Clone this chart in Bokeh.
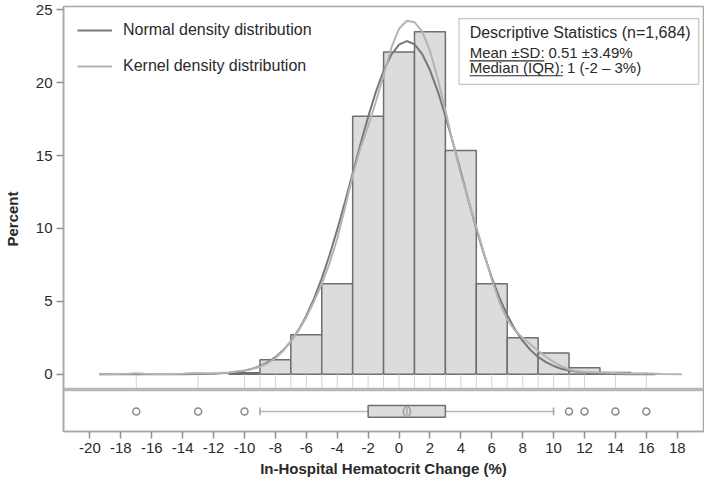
from bokeh.plotting import figure
from bokeh.models import (Range1d, Legend, LegendItem, BoxAnnotation, Label,
                          FixedTicker)
from bokeh.embed import file_html
from bokeh.resources import INLINE

# ---------------- data ----------------
bin_left = [-11, -9, -7, -5, -3, -1, 1, 3, 5, 7, 9, 11, 13]
bin_right = [-9, -7, -5, -3, -1, 1, 3, 5, 7, 9, 11, 13, 15]
bin_pct = [0.1, 1.0, 2.7, 6.2, 17.7, 22.1, 23.5, 15.35, 6.2, 2.5, 1.45, 0.45, 0.12]

normal_x = [-19.4, -16, -14, -13, -12, -11, -10, -9.5, -9, -8.5, -8, -7.5, -7,
            -6.5, -6, -5.5, -5, -4.5, -4, -3.5, -3, -2.5, -2, -1.5, -1, -0.5,
            0, 0.5, 1, 1.5, 2, 2.5, 3, 3.5, 4, 4.5, 5, 5.5, 6, 6.5, 7, 7.5, 8,
            8.5, 9, 9.5, 10, 10.5, 11, 12, 13, 14, 15, 16.6]
normal_y = [0.0, 0.0, 0.004, 0.013, 0.037, 0.099, 0.245, 0.374, 0.558, 0.816,
            1.170, 1.641, 2.258, 3.041, 4.012, 5.189, 6.575, 8.161, 9.919,
            11.81, 13.79, 15.76, 17.65, 19.37, 20.82, 21.92, 22.62, 22.86,
            22.64, 21.96, 20.87, 19.43, 17.72, 15.84, 13.87, 11.89, 9.99,
            8.225, 6.634, 5.242, 4.058, 3.075, 2.285, 1.663, 1.186, 0.828,
            0.567, 0.380, 0.250, 0.101, 0.038, 0.013, 0.004, 0.0]

kernel_x = [-19.4, -18.5, -17.5, -17, -16.5, -16, -15, -14, -13.5, -13, -12.5,
            -12, -11, -10, -9.5, -9, -8.5, -8, -7.5, -7, -6.5, -6, -5.5, -5,
            -4.5, -4, -3.5, -3, -2.5, -2, -1.5, -1, -0.5, 0, 0.5, 1, 1.5, 2,
            2.5, 3, 3.5, 4, 4.5, 5, 5.5, 6, 6.5, 7, 7.5, 8, 8.5, 9, 9.5, 10,
            10.5, 11, 11.5, 12, 12.5, 13, 14, 15, 16, 17, 18.3]
kernel_y = [0.0, 0.01, 0.04, 0.07, 0.04, 0.02, 0.02, 0.03, 0.06, 0.08, 0.07,
            0.07, 0.12, 0.26, 0.38, 0.5, 0.75, 1.1, 1.6, 2.25, 3.0, 3.9, 5.0,
            6.2, 7.6, 9.3, 11.4, 13.6, 15.5, 17.0, 18.7, 20.5, 22.4, 23.7,
            24.25, 24.15, 23.5, 22.2, 20.3, 18.1, 15.8, 13.7, 11.9, 10.1, 8.3,
            6.5, 4.9, 3.75, 3.0, 2.5, 2.05, 1.6, 1.2, 0.85, 0.55, 0.33, 0.2,
            0.16, 0.14, 0.12, 0.08, 0.05, 0.06, 0.02, 0.0]

rug_values = [-17, -13, -10, -9, -8, -7, -6, -5, -4, -3, -2, -1, 0, 1, 2, 3, 4,
              5, 6, 7, 8, 9, 10, 11, 12, 14, 16]

box_q1, box_q3 = -2, 3
whisker_lo, whisker_hi = -9, 10
mean_value = 0.51
outliers = [-17, -13, -10, 11, 12, 14, 16]

x_ticks = list(range(-20, 19, 2))
y_ticks = [0, 5, 10, 15, 20, 25]

legend_labels = ["Normal density distribution", "Kernel density distribution"]
stats_title = "Descriptive Statistics (n=1,684)"
stats_keys = ["Mean \u00b1SD:", "Median (IQR):"]
stats_vals = ["0.51 \u00b13.49%", "1 (-2 \u2013 3%)"]
x_title = "In-Hospital Hematocrit Change (%)"
y_title = "Percent"

# ---------------- layout / style constants ----------------
FONT = "Liberation Sans"
TXT = "#2a2a2a"
FRAME = "#a8a8a8"
BAR_FILL = "#dcdcdc"
BAR_LINE = "#6e6e6e"
NORMAL_C = "#787878"
KERNEL_C = "#b4b4b4"

Y_TOP = 25.23
MAIN_BOTTOM = -0.93
BAND_BOTTOM = -1.17
Y_BOTTOM = -3.93
BOX_C = (BAND_BOTTOM + Y_BOTTOM) / 2.0
BOX_H = 0.40
CAP_H = 0.27

p = figure(width=704, height=479, output_backend="svg", toolbar_location=None,
           x_range=Range1d(-21.71, 19.7), y_range=Range1d(Y_BOTTOM, Y_TOP),
           min_border_left=56, min_border_right=1, min_border_top=6,
           min_border_bottom=30)
p.background_fill_color = "white"
p.border_fill_color = "white"
p.outline_line_color = FRAME
p.outline_line_width = 1.5
p.xgrid.visible = False
p.ygrid.visible = False

# descriptive statistics box (drawn beneath the glyphs so underlines show)
p.add_layout(BoxAnnotation(left=3.88, right=19.39, bottom=19.88, top=24.4,
                           fill_color="white", fill_alpha=1.0,
                           line_color="#404040", line_width=1.2,
                           level="underlay"))

# histogram
p.quad(left=bin_left, right=bin_right, top=bin_pct, bottom=0,
       fill_color=BAR_FILL, line_color=BAR_LINE, line_width=1.5)

# rug below the histogram
p.segment(x0=rug_values, x1=rug_values, y0=[0] * len(rug_values),
          y1=[MAIN_BOTTOM] * len(rug_values), line_color="#d4d4d4",
          line_width=1)

# density curves
r_norm = p.line(normal_x, normal_y, line_color=NORMAL_C, line_width=2)
r_kern = p.line(kernel_x, kernel_y, line_color=KERNEL_C, line_width=2)

# separator band between the panels
p.add_layout(BoxAnnotation(top=MAIN_BOTTOM, bottom=BAND_BOTTOM,
                           fill_color="#b8b8b8", fill_alpha=1.0,
                           line_color=None))

# box plot panel
p.segment(x0=[whisker_lo, box_q3], x1=[box_q1, whisker_hi],
          y0=[BOX_C, BOX_C], y1=[BOX_C, BOX_C], line_color="#b8b8b8",
          line_width=1.5)
p.segment(x0=[whisker_lo, whisker_hi], x1=[whisker_lo, whisker_hi],
          y0=[BOX_C - CAP_H] * 2, y1=[BOX_C + CAP_H] * 2,
          line_color="#a0a0a0", line_width=1.5)
p.quad(left=[box_q1], right=[box_q3], top=[BOX_C + BOX_H],
       bottom=[BOX_C - BOX_H], fill_color=BAR_FILL, line_color="#707070",
       line_width=1.5)
p.ellipse(x=[mean_value], y=[BOX_C], width=7, height=10, width_units="screen",
          height_units="screen", fill_color=None, line_color="#999999",
          line_width=1.5)
p.segment(x0=[mean_value], x1=[mean_value], y0=[BOX_C - BOX_H * 0.6],
          y1=[BOX_C + BOX_H * 0.6], line_color="#999999", line_width=1.2)
p.scatter(outliers, [BOX_C] * len(outliers), marker="circle", size=7,
          fill_color=None, line_color="#8a8a8a", line_width=1.5)

# axes
p.xaxis.ticker = FixedTicker(ticks=x_ticks)
p.yaxis.ticker = FixedTicker(ticks=y_ticks)
p.xaxis.major_label_overrides = {t: str(t) for t in x_ticks}
p.yaxis.major_label_overrides = {t: str(t) for t in y_ticks}
for ax in (p.xaxis[0], p.yaxis[0]):
    ax.axis_line_color = FRAME
    ax.axis_line_width = 1.5
    ax.major_tick_line_color = "#909090"
    ax.major_tick_line_width = 1.5
    ax.major_tick_in = 0
    ax.minor_tick_line_color = None
    ax.major_label_text_font = FONT
    ax.major_label_text_font_size = "15px"
    ax.major_label_text_color = TXT
    ax.axis_label_text_font = FONT
    ax.axis_label_text_font_size = "15px"
    ax.axis_label_text_font_style = "bold"
    ax.axis_label_text_color = TXT
p.xaxis.major_tick_out = 7
p.yaxis.major_tick_out = 7
p.xaxis.major_label_standoff = 4
p.yaxis.major_label_standoff = 4
p.xaxis.axis_label = x_title
p.yaxis.axis_label = y_title
p.xaxis.axis_label_standoff = 4
p.yaxis.axis_label_standoff = 12

# legend
legend = Legend(items=[LegendItem(label=legend_labels[0], renderers=[r_norm]),
                       LegendItem(label=legend_labels[1], renderers=[r_kern])],
                location="top_left", margin=14, padding=4, spacing=16,
                glyph_width=35, glyph_height=20, label_height=20,
                label_standoff=11, label_text_font=FONT,
                label_text_font_size="16px", label_text_color=TXT,
                border_line_color=None, background_fill_alpha=0.0)
p.add_layout(legend)

# descriptive statistics texts
TX = 4.57
PX = 15.62   # approx pixels per x unit
FS = 15
KEY_W = [5.03 * FS / PX, 6.279 * FS / PX]
SPACE = 0.278 * FS / PX
LABEL_SHIFT = 0.48   # labels render ~7px below their anchor
p.add_layout(Label(x=TX, y=22.95 + LABEL_SHIFT, text=stats_title,
                   text_font=FONT, text_font_size="16px", text_color=TXT,
                   text_baseline="alphabetic"))
rows_y = [21.60, 20.58]   # intended baselines
for i, yb in enumerate(rows_y):
    p.add_layout(Label(x=TX, y=yb + LABEL_SHIFT, text=stats_keys[i],
                       text_font=FONT, text_font_size="15px", text_color=TXT,
                       text_baseline="alphabetic"))
    p.add_layout(Label(x=TX + KEY_W[i] + SPACE, y=yb + LABEL_SHIFT,
                       text=stats_vals[i], text_font=FONT,
                       text_font_size="15px", text_color=TXT,
                       text_baseline="alphabetic"))
p.segment(x0=[TX, TX], x1=[TX + KEY_W[0], TX + KEY_W[1]],
          y0=[rows_y[0] - 0.1, rows_y[1] - 0.1],
          y1=[rows_y[0] - 0.1, rows_y[1] - 0.1],
          line_color=TXT, line_width=1.1)

open("out.html", "w").write(file_html(p, INLINE))
